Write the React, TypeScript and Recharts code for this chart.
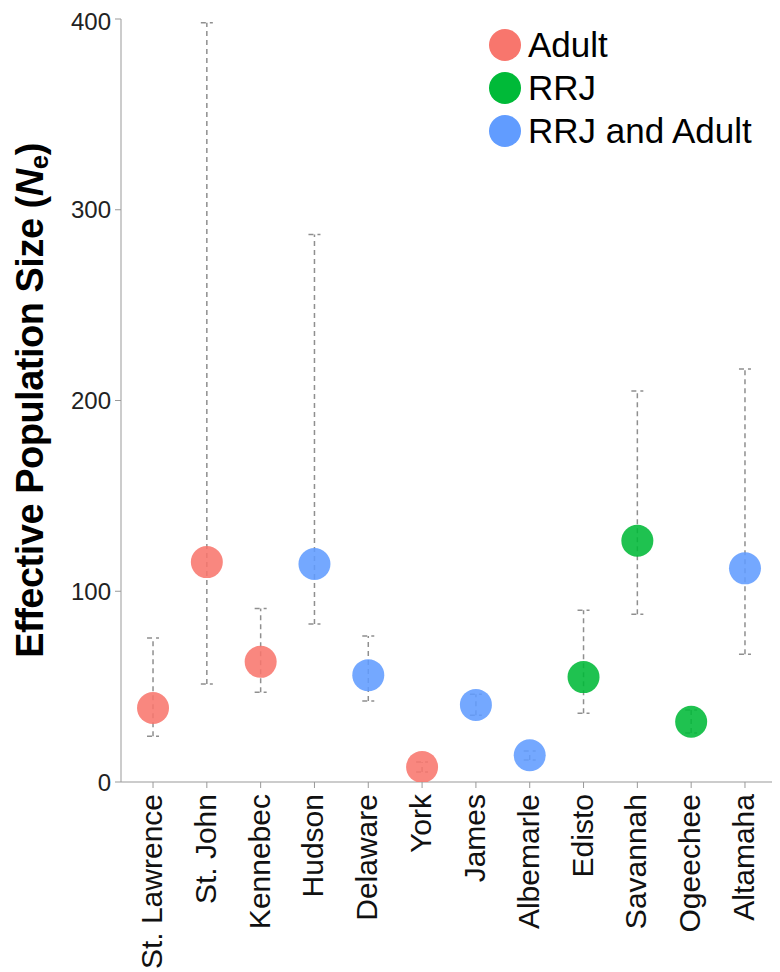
import React from "react";
import { ScatterChart, Scatter, XAxis, YAxis, ErrorBar, Legend } from "recharts";

const rivers = ["St. Lawrence", "St. John", "Kennebec", "Hudson", "Delaware", "York", "James", "Albemarle", "Edisto", "Savannah", "Ogeechee", "Altamaha"];
const groups = ["Adult", "Adult", "Adult", "RRJ and Adult", "RRJ and Adult", "Adult", "RRJ and Adult", "RRJ and Adult", "RRJ", "RRJ", "RRJ", "RRJ and Adult"];
const ne = [38.8, 115.3, 63, 114.3, 56, 7.9, 40.4, 14, 55, 126.5, 31.6, 112];
const lower = [24, 51.4, 47, 82.8, 42.5, 5.2, 35, 11.5, 36, 88, 25.7, 67];
const upper = [75.5, 398, 91, 287, 76.5, 10.5, 46, 16.3, 90, 205, 37.7, 216.5];
const yTicks = [0, 100, 200, 300, 400];
const seriesNames = ["Adult", "RRJ", "RRJ and Adult"];
const seriesColors = ["#F8766D", "#00BA38", "#619CFF"];

const FONT = "'Liberation Sans', Arial, Helvetica, sans-serif";

const rows = rivers.map((r, i) => ({
  idx: i,
  river: r,
  group: groups[i],
  ne: ne[i],
  err: [ne[i] - lower[i], upper[i] - ne[i]],
}));

const seriesData = seriesNames.map((g) => rows.filter((d) => d.group === g));

const XTick = (props: any) => {
  const { x, y, payload } = props;
  const label = rivers[Math.round(payload.value)] ?? "";
  return (
    <text
      x={x}
      y={y}
      transform={`rotate(-90, ${x}, ${y})`}
      textAnchor="end"
      dy="0.3em"
      fontSize={30}
      fontFamily={FONT}
      fill="#111"
    >
      {label}
    </text>
  );
};

const YLabel = (props: any) => {
  const vb = props.viewBox || {};
  const cy = (vb.y ?? 0) + (vb.height ?? 0) / 2;
  const cx = 22;
  return (
    <text
      x={cx}
      y={cy}
      transform={`rotate(-90, ${cx}, ${cy})`}
      textAnchor="middle"
      dominantBaseline="central"
      fontSize={38}
      fontWeight="bold"
      fontFamily={FONT}
      fill="#000"
      letterSpacing={-0.5}
    >
      Effective Population Size (<tspan fontStyle="italic">N</tspan>
      <tspan fontSize={26} dy={9}>e</tspan>
      <tspan dy={-9}>)</tspan>
    </text>
  );
};

const LegendContent = () => (
  <div style={{ fontFamily: FONT }}>
    {seriesNames.map((n, i) => (
      <div key={n} style={{ display: "flex", alignItems: "center", height: 43 }}>
        <svg width={34} height={34} style={{ marginRight: 6 }}>
          <circle cx={17} cy={17} r={16} fill={seriesColors[i]} />
        </svg>
        <span style={{ fontSize: 35, color: "#000", lineHeight: "43px" }}>{n}</span>
      </div>
    ))}
  </div>
);

const makeShape = (color: string) => (p: any) => (
  <circle cx={p.cx} cy={p.cy} r={16} fill={color} fillOpacity={0.88} />
);

export default function App() {
  return (
    <div style={{ width: 772, height: 964, background: "#fff" }}>
      <ScatterChart width={772} height={964} margin={{ top: 11, right: 3, bottom: 10, left: 13 }}>
        <XAxis
          type="number"
          dataKey="idx"
          domain={[-0.595, 11.595]}
          allowDataOverflow={true}
          ticks={rivers.map((_, i) => i)}
          interval={0}
          tick={<XTick />}
          tickSize={6}
          tickMargin={6}
          height={180}
          stroke="#999"
          tickLine={{ stroke: "#999" }}
        />
        <YAxis
          type="number"
          dataKey="ne"
          domain={[0, 400]}
          allowDataOverflow={true}
          ticks={yTicks}
          width={100}
          tickSize={6}
          tickMargin={4}
          stroke="#999"
          tick={{ fontSize: 24, fill: "#222", fontFamily: FONT }}
          label={<YLabel />}
        />
        <Legend
          verticalAlign="middle"
          align="center"
          layout="horizontal"
          content={<LegendContent />}
          wrapperStyle={{ position: "absolute", top: 15, left: 480, width: 290 }}
        />
        {seriesNames.map((n, i) => (
          <Scatter
            key={n}
            name={n}
            data={seriesData[i]}
            fill={seriesColors[i]}
            shape={makeShape(seriesColors[i])}
            isAnimationActive={false}
          >
            <ErrorBar
              dataKey="err"
              direction="y"
              width={6}
              stroke="#8f8f8f"
              strokeWidth={1.5}
              strokeDasharray="5 4"
            />
          </Scatter>
        ))}
      </ScatterChart>
    </div>
  );
}
